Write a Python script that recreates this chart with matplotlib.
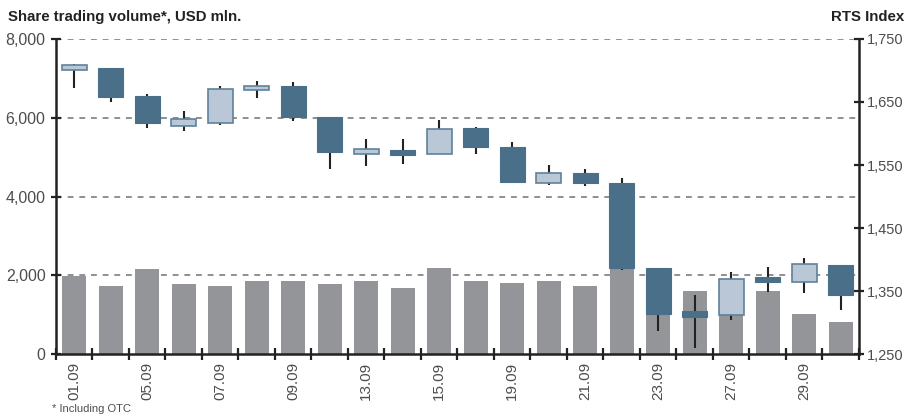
import matplotlib
matplotlib.use("Agg")
import matplotlib.pyplot as plt
import numpy as np

plt.rcParams["font.family"] = ["Liberation Sans", "DejaVu Sans"]

dates = ["01.09", "02.09", "05.09", "06.09", "07.09", "08.09", "09.09", "12.09",
         "13.09", "14.09", "15.09", "16.09", "19.09", "20.09", "21.09", "22.09",
         "23.09", "26.09", "27.09", "28.09", "29.09", "30.09"]
label_dates = ["01.09", "05.09", "07.09", "09.09", "13.09", "15.09", "19.09",
               "21.09", "23.09", "27.09", "29.09"]

volume = [1990, 1720, 2170, 1790, 1720, 1850, 1850, 1780, 1850, 1670, 2180,
          1850, 1800, 1850, 1720, 2260, 1930, 1600, 1720, 1600, 1020, 810]

rts_open = [1700, 1704, 1660, 1612, 1617, 1669, 1675, 1626, 1567, 1574, 1567,
            1609, 1579, 1522, 1538, 1521, 1386, 1318, 1312, 1372, 1365, 1391]
rts_close = [1709, 1658, 1617, 1623, 1671, 1676, 1626, 1570, 1575, 1566, 1607,
             1578, 1523, 1538, 1521, 1387, 1314, 1308, 1369, 1365, 1393, 1343]
rts_high = [1710, 1704, 1663, 1636, 1675, 1684, 1681, 1626, 1591, 1591, 1621,
            1611, 1587, 1550, 1544, 1530, 1386, 1344, 1380, 1388, 1403, 1391]
rts_low = [1672, 1650, 1609, 1604, 1613, 1656, 1620, 1544, 1549, 1551, 1567,
           1568, 1523, 1519, 1516, 1383, 1287, 1259, 1304, 1349, 1347, 1320]

text_color = "#4d4d4d"
dark_blue = "#4a7089"
light_blue = "#b9c7d6"
light_edge = "#5f829b"

fig = plt.figure(figsize=(9.07, 4.17), dpi=100)
ax = fig.add_axes([0.0617, 0.151, 0.8853, 0.7555])
ax2 = ax.twinx()

x = np.arange(len(dates))
ax.bar(x, volume, width=0.66, color="#939598", zorder=2)
ax.set_xlim(-0.5, len(dates) - 0.5)
ax.set_ylim(0, 8000)
ax.set_yticks([0, 2000, 4000, 6000, 8000])
ax.set_yticklabels([f"{v:,}" for v in [0, 2000, 4000, 6000, 8000]])
for v in [2000, 4000, 6000, 8000]:
    ax.axhline(v, color="#8f8f8f", linestyle=(0, (3, 3)), linewidth=1.4, zorder=1)

ax.set_xticks(np.arange(len(dates) + 1) - 0.5, minor=False)
ax.set_xticklabels([])
ax.tick_params(axis="x", direction="inout", length=9, width=1.6, color="#222222")
label_pos = [dates.index(d) for d in label_dates]
for p, d in zip(label_pos, label_dates):
    ax.text(p, -0.025, d, transform=ax.get_xaxis_transform(), rotation=90,
            ha="center", va="top", fontsize=11, color=text_color)

ax.tick_params(axis="y", direction="inout", length=7, width=1.6, color="#222222",
               labelsize=11.5, labelcolor=text_color, pad=4)

for s in ["top", "right"]:
    ax.spines[s].set_visible(False)
ax.spines["left"].set_linewidth(1.8)
ax.spines["left"].set_color("#222222")
ax.spines["bottom"].set_linewidth(1.8)
ax.spines["bottom"].set_color("#222222")

# candlesticks on the right axis
ax2.vlines(x, rts_low, rts_high, color="#222222", linewidth=1.5, zorder=3)
for i in range(len(dates)):
    o, c = rts_open[i], rts_close[i]
    lo = min(o, c)
    h = abs(c - o)
    if c >= o:
        ax2.bar(x[i], h, bottom=lo, width=0.68, color=light_blue,
                edgecolor=light_edge, linewidth=1.2, zorder=4)
    else:
        ax2.bar(x[i], h, bottom=lo, width=0.68, color=dark_blue,
                edgecolor=dark_blue, linewidth=0.8, zorder=4)

ax2.set_ylim(1250, 1750)
ax2.set_yticks(np.arange(1250, 1751, 100))
ax2.set_yticklabels([f"{v:,}" for v in np.arange(1250, 1751, 100)])
ax2.tick_params(axis="y", direction="inout", length=7, width=1.6, color="#222222",
                labelsize=10.5, labelcolor=text_color, pad=2)
for s in ["top", "left", "bottom"]:
    ax2.spines[s].set_visible(False)
ax2.spines["right"].set_linewidth(1.8)
ax2.spines["right"].set_color("#222222")
ax2.set_xlim(-0.5, len(dates) - 0.5)

fig.text(8 / 907, 1 - 17 / 417, "Share trading volume*, USD mln.", fontsize=10.8,
         fontweight="bold", color="#222222", va="center", ha="left")
fig.text(904 / 907, 1 - 17 / 417, "RTS Index", fontsize=10.8,
         fontweight="bold", color="#222222", va="center", ha="right")
fig.text(52 / 907, 1 - 409 / 417, "* Including OTC", fontsize=8,
         color=text_color, va="center", ha="left")

fig.savefig("out.png", dpi=100)
